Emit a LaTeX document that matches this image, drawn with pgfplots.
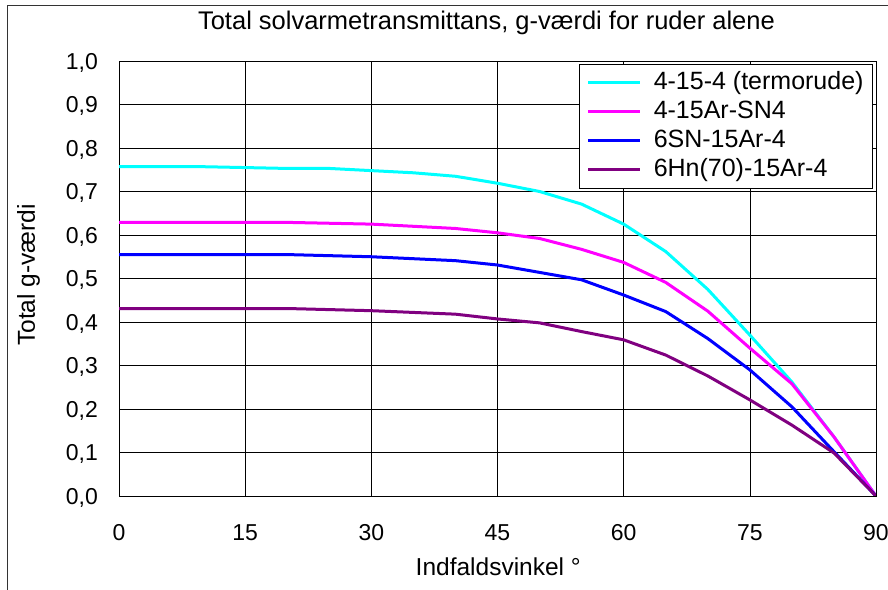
\documentclass[border=0pt]{standalone}
\usepackage{pgfplots}
\pgfplotsset{compat=1.18}
\usepackage{fontspec}
\setmainfont{Liberation Sans}
\definecolor{cCyan}{RGB}{0,255,255}
\definecolor{cMag}{RGB}{255,0,255}
\definecolor{cBlue}{RGB}{0,0,255}
\definecolor{cPurp}{RGB}{128,0,128}
\begin{document}
\begin{tikzpicture}
\useasboundingbox (0,0) rectangle (888bp,590bp);
\draw[black!80, line width=1bp] (7bp,0bp) -- (7bp,584bp) -- (888bp,584bp);
\begin{axis}[
  at={(119bp,94bp)}, anchor=south west,
  scale only axis, width=757bp, height=435bp,
  xmin=0, xmax=90, ymin=0, ymax=1,
  xtick={0,15,...,90}, ytick={0,0.1,...,1.0},
  grid=major, major grid style={black, line width=0.6bp},
  axis line style={black, line width=0.8bp},
  major tick length=0pt,
  font=\fontsize{23bp}{27bp}\selectfont,
  /pgf/number format/assume math mode=true,
  y tick label style={/pgf/number format/use comma, /pgf/number format/fixed, /pgf/number format/fixed zerofill, /pgf/number format/precision=1, anchor=base east, inner xsep=0pt, xshift=-21bp, yshift=-8.2bp},
  x tick label style={anchor=base, yshift=-44bp},
  title={Total solvarmetransmittans, g-værdi for ruder alene},
  title style={at={(rel axis cs:0.4854,1)}, anchor=base, yshift=26bp, font=\fontsize{25.5bp}{29bp}\selectfont},
  xlabel={Indfaldsvinkel °},
  xlabel style={at={(rel axis cs:0.501,0)}, anchor=base, yshift=-79bp, font=\fontsize{24.5bp}{28bp}\selectfont},
  ylabel={Total g-værdi},
  ylabel style={at={(rel axis cs:0,0.508)}, anchor=base, yshift=84bp, font=\fontsize{24.5bp}{28bp}\selectfont},
  legend style={at={(rel axis cs:0.996,0.993)}, anchor=north east, draw=black, line width=0.8bp,
    font=\fontsize{25bp}{29bp}\selectfont, inner xsep=7bp, inner ysep=4bp,
    nodes={text height=18bp, text depth=5bp, inner ysep=3bp, inner xsep=2bp},
    /tikz/every odd column/.append style={column sep=10bp}},
  legend cell align=left,
  legend image code/.code={\draw[#1, line width=3bp] (0bp,0bp) -- (52bp,0bp);},
  every axis plot/.append style={line width=3bp, line join=round},
]
\addplot[cCyan] coordinates {(0,0.757)(10,0.757)(20,0.753)(25,0.753)(30,0.748)(35,0.743)(40,0.735)(45,0.719)(50,0.700)(55,0.671)(60,0.625)(65,0.562)(70,0.475)(75,0.370)(80,0.262)(85,0.136)(90,0)};
\addlegendentry{4-15-4 (termorude)}
\addplot[cMag] coordinates {(0,0.629)(10,0.629)(20,0.629)(30,0.625)(40,0.615)(45,0.605)(50,0.592)(55,0.567)(60,0.537)(65,0.491)(70,0.425)(75,0.340)(80,0.258)(85,0.136)(90,0)};
\addlegendentry{4-15Ar-SN4}
\addplot[cBlue] coordinates {(0,0.555)(10,0.555)(20,0.555)(30,0.550)(40,0.541)(45,0.531)(50,0.514)(55,0.497)(60,0.462)(65,0.424)(70,0.362)(75,0.290)(80,0.205)(85,0.102)(90,0)};
\addlegendentry{6SN-15Ar-4}
\addplot[cPurp] coordinates {(0,0.431)(10,0.431)(20,0.431)(30,0.426)(40,0.418)(45,0.407)(50,0.398)(55,0.378)(60,0.359)(65,0.324)(70,0.276)(75,0.221)(80,0.163)(85,0.099)(90,0)};
\addlegendentry{6Hn(70)-15Ar-4}
\end{axis}
\end{tikzpicture}
\end{document}
